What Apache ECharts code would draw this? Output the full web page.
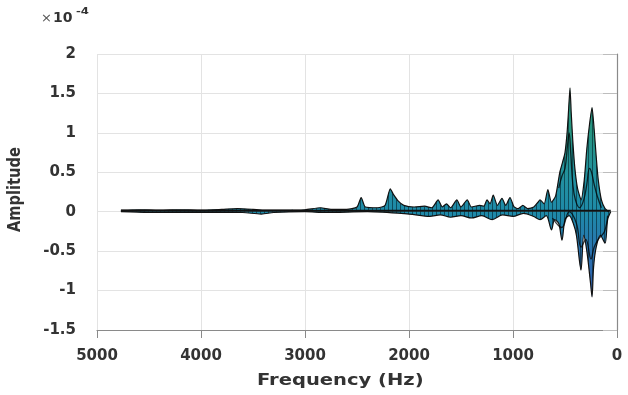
<!DOCTYPE html>
<html><head><meta charset="utf-8">
<script src="https://cdn.jsdelivr.net/npm/echarts@6/dist/echarts.min.js"></script>
<style>html,body{margin:0;padding:0;background:#fff}#c{width:628px;height:395px}</style>
</head><body><div id="c"></div>
<script>
// values in units of 1e-4
const upperFreq = [4770,4600,4400,4200,4000,3800,3650,3500,3400,3200,3000,2850,2750,2600,2500,2460,2420,2300,2230,2180,2150,2100,2050,1950,1850,1780,1720,1680,1640,1600,1540,1500,1440,1400,1320,1280,1250,1220,1190,1150,1106,1070,1029,990,950,905,860,800,760,740,700,665,630,590,550,525,500,480,465,452,440,425,405,380,345,315,290,265,240,220,200,180,150,115,80];
const upperAmp  = [0.02,0.025,0.02,0.025,0.02,0.03,0.04,0.03,0.02,0.02,0.025,0.05,0.03,0.03,0.06,0.18,0.06,0.05,0.08,0.29,0.22,0.13,0.08,0.06,0.07,0.05,0.15,0.06,0.1,0.05,0.15,0.06,0.15,0.06,0.08,0.07,0.15,0.1,0.21,0.08,0.17,0.08,0.18,0.06,0.04,0.08,0.04,0.06,0.12,0.15,0.1,0.28,0.12,0.2,0.5,0.62,0.75,1.0,1.3,1.57,1.25,0.9,0.55,0.3,0.15,0.4,0.8,1.1,1.32,1.05,0.7,0.4,0.15,0.04,0.0];
const lowerFreq = [4770,4500,4000,3600,3420,3300,3000,2800,2400,2000,1800,1700,1600,1500,1400,1300,1200,1100,1000,900,800,740,680,630,600,560,529,500,460,420,390,346,320,290,255,240,225,200,160,115,90,60];
const lowerAmp  = [0.0,-0.01,-0.005,-0.01,-0.03,-0.01,0.0,-0.01,0.0,-0.03,-0.06,-0.04,-0.07,-0.05,-0.08,-0.05,-0.1,-0.04,-0.06,-0.02,-0.06,-0.1,-0.05,-0.23,-0.1,-0.15,-0.36,-0.1,-0.05,-0.15,-0.3,-0.74,-0.3,-0.5,-0.9,-1.08,-0.7,-0.45,-0.3,-0.4,-0.1,0.0];
const innerUFreq = [560,530,500,475,460,445,425,400,360,320,290,265,245,220,190,150];
const innerUAmp  = [0.3,0.45,0.55,0.85,1.0,0.75,0.35,0.15,0.05,0.15,0.35,0.55,0.5,0.35,0.2,0.05];
const innerLFreq = [620,530,460,390,345,300,250,220,180,120,90];
const innerLAmp  = [-0.08,-0.2,0.0,-0.15,-0.45,-0.35,-0.6,-0.45,-0.35,-0.25,-0.05];
const baseFreq = [4770,60];
const baseAmp  = [0.012,0.012];
const xTicks = [5000,4000,3000,2000,1000,0];
const yTicks = [-1.5,-1,-0.5,0,0.5,1,1.5,2];

const pair = (f,a) => f.map((v,i)=>[v,a[i]]);

// stripe/gradient pattern for the surface fill
const pc = document.createElement('canvas');
pc.width = 4; pc.height = 395;
const g = pc.getContext('2d');
const grd = g.createLinearGradient(0,0,0,395);
grd.addColorStop(0.0,'#2a9c84');
grd.addColorStop(130/395,'#279580');
grd.addColorStop(180/395,'#2290a0');
grd.addColorStop(212/395,'#1e8aa8');
grd.addColorStop(250/395,'#2a74b0');
grd.addColorStop(300/395,'#2f58a8');
grd.addColorStop(1,'#2f58a8');
g.fillStyle = grd; g.fillRect(0,0,4,395);
g.fillStyle = 'rgba(0,25,35,0.55)'; g.fillRect(0,0,1,395);
const fillPattern = {image: pc, repeat: 'repeat'};

const font = 'DejaVu Sans';
const chart = echarts.init(document.getElementById('c'), null, {renderer:'canvas'});
chart.setOption({
  animation:false,
  backgroundColor:'#fff',
  grid:{left:97,right:11,top:54,bottom:65},
  xAxis:{type:'value',min:0,max:5000,interval:1000,inverse:true,
    axisLine:{show:true,onZero:false,lineStyle:{color:'#8a8a8a',width:1.2}},
    axisTick:{show:true,length:8,lineStyle:{color:'#8a8a8a'}},
    axisLabel:{margin:19,fontFamily:font,fontWeight:'bold',fontSize:15,color:'#333',
      formatter:v=>xTicks.includes(v)?String(v):''},
    splitLine:{show:true,lineStyle:{color:'#e3e3e3'}}},
  yAxis:{type:'value',min:-1.5,max:2,interval:0.5,
    axisLine:{show:true,lineStyle:{color:'#8a8a8a',width:1.2}},
    axisTick:{show:true,length:14,lineStyle:{color:'#bdbdbd'}},
    axisLabel:{margin:21,fontFamily:font,fontWeight:'bold',fontSize:15,color:'#333',
      formatter:v=>yTicks.includes(v)?String(v):''},
    splitLine:{show:true,lineStyle:{color:'#e3e3e3'}}},
  series:[
    {type:'line',data:pair(lowerFreq,lowerAmp),smooth:0.3,symbol:'none',
      lineStyle:{color:'#111',width:1.2},areaStyle:{color:fillPattern,opacity:1,origin:0}},
    {type:'line',data:pair(upperFreq,upperAmp),smooth:0.2,symbol:'none',
      lineStyle:{color:'#111',width:1.2},areaStyle:{color:fillPattern,opacity:1,origin:0}},
    {type:'line',data:pair(innerUFreq,innerUAmp),smooth:0.4,symbol:'none',
      lineStyle:{color:'rgba(0,0,0,0.75)',width:1.3}},
    {type:'line',data:pair(innerLFreq,innerLAmp),smooth:0.4,symbol:'none',
      lineStyle:{color:'rgba(0,0,0,0.75)',width:1.3}},
    {type:'line',data:pair(baseFreq,baseAmp),symbol:'none',
      lineStyle:{color:'#111',width:2.2}}
  ],
  graphic:[
    {type:'text',left:257,top:373,style:{text:'Frequency (Hz)',fontFamily:font,fontWeight:'bold',fontSize:16,fill:'#333'},
      scaleX:1.22, originX:0},
    {type:'text',x:7,y:232,rotation:Math.PI/2,scaleX:0.86,style:{text:'Amplitude',fontFamily:font,fontWeight:'bold',fontSize:17,fill:'#333'}},
    {type:'text',x:41,y:12,style:{text:'×',fontFamily:font,fontSize:13,fill:'#555'}},
    {type:'text',x:53,y:11,style:{text:'10',fontFamily:font,fontWeight:'bold',fontSize:14,fill:'#333'}},
    {type:'text',x:76,y:7,scaleX:1.3,style:{text:'-4',fontFamily:font,fontWeight:'bold',fontSize:9,fill:'#333'}}
  ]
});
</script></body></html>
